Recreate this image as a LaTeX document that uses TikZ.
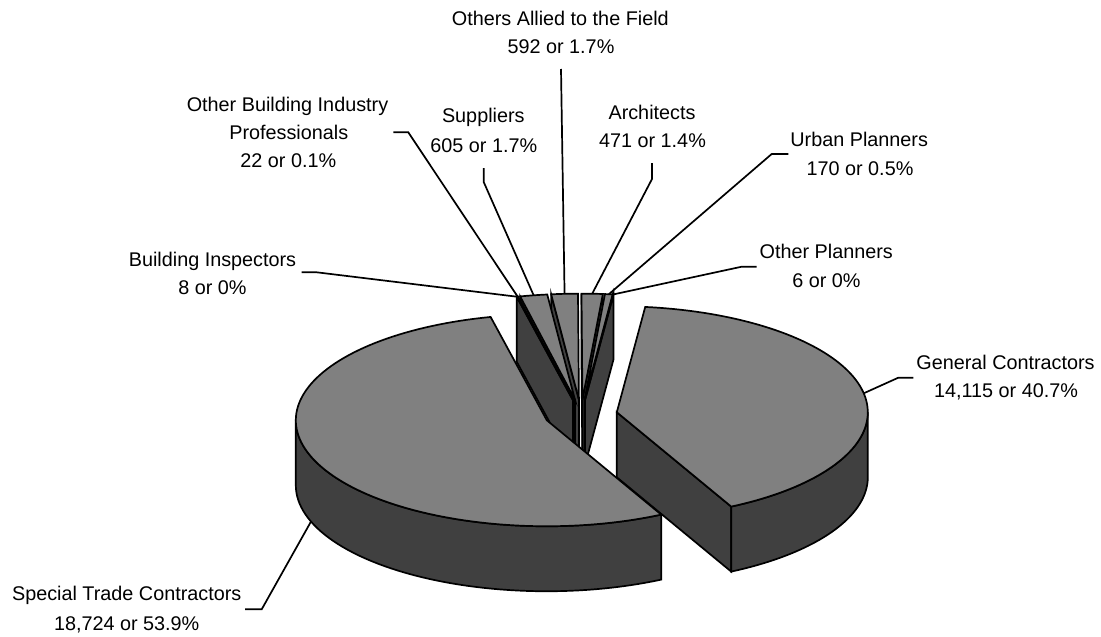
\documentclass[tikz,border=0pt]{standalone}
\usepackage{fontspec}
\setmainfont{Liberation Sans}
\definecolor{topgray}{RGB}{128,128,128}
\definecolor{sidegray}{RGB}{64,64,64}
\newcommand\setslice[2]{%
  \pgfmathsetmacro\angA{#1}\pgfmathsetmacro\angB{#2}%
  \pgfmathsetmacro\angM{(#1+#2)/2}%
  \pgfmathsetmacro\apx{\cx+\ef*\rx*sin(\angM)}%
  \pgfmathsetmacro\apy{\cy-\ef*\ry*cos(\angM)}}
\newcommand\radface[1]{%
  \filldraw[side] (\apx,\apy) -- ({\apx+\rx*sin(#1)},{\apy-\ry*cos(#1)})
    -- ({\apx+\rx*sin(#1)},{\apy-\ry*cos(#1)+\dep}) -- (\apx,{\apy+\dep}) -- cycle;}
\newcommand\topface[1]{%
  \filldraw[top] (\apx,\apy) -- plot[domain=\angA:\angB,samples=#1]
    ({\apx+\rx*sin(\x)},{\apy-\ry*cos(\x)}) -- cycle;}
\newcommand\outface[2]{%
  \filldraw[side] plot[domain=#1:#2,samples=60] ({\apx+\rx*sin(\x)},{\apy-\ry*cos(\x)})
    -- plot[domain=#2:#1,samples=60] ({\apx+\rx*sin(\x)},{\apy-\ry*cos(\x)+\dep}) -- cycle;}
\newcommand\midpt[1]{\coordinate (#1) at ({\apx+\rx*sin(\angM)},{\apy-\ry*cos(\angM)});}
\begin{document}
\begin{tikzpicture}[x=1pt,y=-1pt,
  top/.style={fill=topgray,draw=black,line width=1.7pt},
  side/.style={fill=sidegray,draw=black,line width=1.7pt},
  leader/.style={draw=black,line width=1.7pt},
  lbl/.style={anchor=base,inner sep=0pt,font=\fontsize{19.8}{24}\selectfont}]
\useasboundingbox[fill=white] (0,0) rectangle (1101,637);
\def\cx{581}\def\cy{415}\def\rx{251}\def\ry{106}\def\dep{65}\def\ef{0.145}

% ---- labels ----
\node[lbl] (gcT) at (1005.5,369) {General Contractors};
\node[lbl] (gcV) at (1006,397.7) {14,115 or 40.7\%};
\node[lbl] (stT) at (126.7,600.7) {Special Trade Contractors};
\node[lbl] (stV) at (126.7,630.7) {18,724 or 53.9\%};
\node[lbl] (biT) at (212.5,266) {Building Inspectors};
\node[lbl] (biV) at (212.5,294) {8 or 0\%};
\node[lbl] (obT) at (287.5,111.7) {Other Building Industry};
\node[lbl] (obU) at (288.8,139.3) {Professionals};
\node[lbl] (obV) at (288.3,167.3) {22 or 0.1\%};
\node[lbl] (suT) at (483.3,122.7) {Suppliers};
\node[lbl] (suV) at (483.8,152.3) {605 or 1.7\%};
\node[lbl] (oaT) at (560.3,25) {Others Allied to the Field};
\node[lbl] (oaV) at (561,53.3) {592 or 1.7\%};
\node[lbl] (arT) at (652,119.3) {Architects};
\node[lbl] (arV) at (652.5,147.7) {471 or 1.4\%};
\node[lbl] (upT) at (859.2,146) {Urban Planners};
\node[lbl] (upV) at (860,175) {170 or 0.5\%};
\node[lbl] (opT) at (826.3,258.3) {Other Planners};
\node[lbl] (opV) at (826.5,287.3) {6 or 0\%};

% ---- slice anchor points for leaders ----
\setslice{6.5}{152.883}\midpt{gcP}
\setslice{152.883}{347.065}
\coordinate (stP) at ({\apx+\rx*sin(\angM)},{\apy-\ry*cos(\angM)+\dep});
\setslice{347.065}{347.148}\midpt{biP}
\setslice{347.148}{347.376}\midpt{obP}
\setslice{347.376}{353.651}\midpt{suP}
\setslice{353.651}{359.790}\midpt{oaP}
\setslice{359.790}{364.675}\midpt{arP}
\setslice{364.675}{366.438}\midpt{upP}
\setslice{366.438}{366.5}\midpt{opP}

% ---- leader lines ----
\coordinate (gcK) at (898.3,377.7); \coordinate (gcE) at (913.3,377.7);
\coordinate (stK) at (261.7,609.3); \coordinate (stE) at (245,609.3);
\coordinate (biK) at (316.7,272.3); \coordinate (biE) at (301.7,272.3);
\coordinate (obK) at (408.3,132.3); \coordinate (obE) at (393.3,132.3);
\coordinate (suK) at (483.7,182);   \coordinate (suE) at (483.7,168);
\coordinate (oaE) at (561,69);
\coordinate (arK) at (652,179);     \coordinate (arE) at (652,163);
\coordinate (upK) at (771.7,154);   \coordinate (upE) at (788.3,154);
\coordinate (opK) at (741.7,266.7); \coordinate (opE) at (756.7,266.7);
\draw[leader] (gcP) -- (gcK) -- (gcE);
\draw[leader] (stP) -- (stK) -- (stE);
\draw[leader] (biP) -- (biK) -- (biE);
\draw[leader] (obP) -- (obK) -- (obE);
\draw[leader] (suP) -- (suK) -- (suE);
\draw[leader] (oaP) -- (oaE);
\draw[leader] (arP) -- (arK) -- (arE);
\draw[leader] (upP) -- (upK) -- (upE);
\draw[leader] (opP) -- (opK) -- (opE);

% ---- small slices (back) ----
\setslice{359.790}{364.675}\radface{\angA}\radface{\angB}\topface{6}   % Architects
\setslice{353.651}{359.790}\radface{\angA}\topface{6}                  % Others Allied
\setslice{364.675}{366.438}\radface{\angB}\topface{3}                  % Urban Planners
\setslice{347.376}{353.651}\radface{\angA}\topface{6}                  % Suppliers
\setslice{366.438}{366.5}\radface{\angB}\topface{2}                    % Other Planners
\setslice{347.148}{347.376}\radface{\angA}\topface{2}                  % Other Building Ind.
\setslice{347.065}{347.148}\radface{\angA}\topface{2}                  % Building Inspectors

% ---- General Contractors ----
\setslice{6.5}{152.883}\radface{\angB}\outface{90}{\angB}\topface{90}
% ---- Special Trade Contractors ----
\setslice{152.883}{347.065}\outface{\angA}{270}\topface{110}
\end{tikzpicture}
\end{document}
